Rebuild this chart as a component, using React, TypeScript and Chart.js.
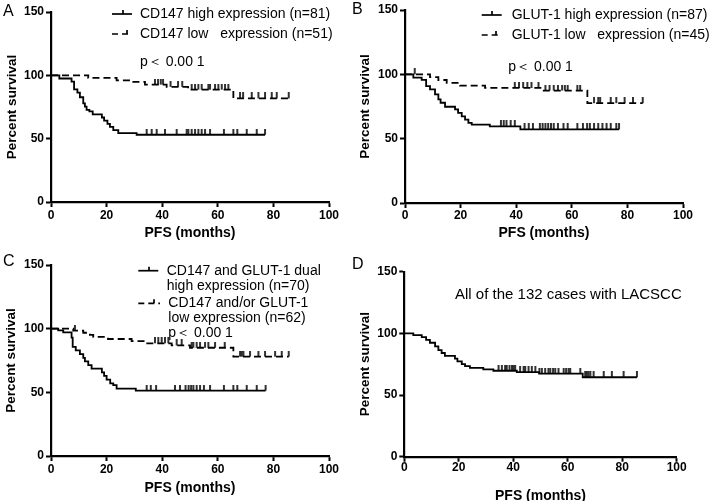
import React, { useEffect, useRef } from "react";
import { Chart, registerables } from "chart.js";
Chart.register(...registerables);

const FONT = "'Liberation Sans', Arial, Helvetica, sans-serif";

// ---------- axes ----------
const xMin = 0, xMax = 100, xStep = 20;
const yMin = 0, yMax = 150, yStep = 50;
const xTitle = "PFS (months)";
const yTitle = "Percent survival";

// ---------- Panel A: CD147 ----------
const aHighTimes = [0, 3, 7.4, 8.3, 9.5, 10.4, 11.6, 12.2, 12.8, 13.8, 15, 18.3, 19.1, 20.3, 21.2, 22.4, 24.2, 30.8];
const aHighSurv = [100, 97.5, 95.1, 88.9, 86.4, 82.7, 77.8, 75.3, 72.8, 71.6, 69.1, 66.7, 64.2, 61.7, 59.3, 56.8, 54.3, 53.1];
const aHighCensor = [34.4, 36.2, 38, 41, 45.2, 48.8, 49.4, 50.6, 51.8, 53, 54.2, 55.4, 57.2, 62.2, 65.6, 67, 70.4, 74, 77];
const aLowTimes = [0, 13.4, 23.6, 29, 33.8, 41.6, 49.3, 65.6];
const aLowSurv = [100, 98, 96, 94.8, 92.7, 90.9, 88.7, 81.8];
const aLowCensor = [37.4, 38.5, 39.5, 40.3, 43, 45.7, 47.2, 50.6, 51.8, 53, 54.2, 56.6, 57.2, 59, 60.2, 61.4, 62.6, 63.8, 68, 69.1, 72.2, 74.6, 77, 79.4, 81.2, 85.5];

// ---------- Panel B: GLUT-1 ----------
const bHighTimes = [0, 3, 6, 7.6, 9, 10.8, 12, 12.8, 14.4, 18, 19.1, 20.4, 21.6, 22.8, 24, 30.5, 41.5];
const bHighSurv = [100, 97.4, 95.7, 90.9, 88.3, 84.4, 80.5, 77.9, 74.8, 72.7, 70, 67.4, 64.8, 62.3, 60.9, 59.6, 57.2];
const bHighCensor = [34.5, 35.5, 36.5, 38, 39.5, 43, 44.5, 46, 48.5, 49.5, 50.5, 51.5, 52.5, 53.5, 55, 57, 58.5, 62, 64, 65.5, 66.5, 68, 69.5, 71, 72.5, 74, 76, 77];
const bLowTimes = [0, 9, 12, 15, 19.8, 28.8, 49.5, 65.6];
const bLowSurv = [100, 97.8, 95.6, 93.4, 91.2, 89.4, 87.4, 77.6];
const bLowCensor = [3.5, 39.5, 41, 42.5, 44, 45.5, 48, 50.5, 52, 53.5, 55, 56.5, 57.5, 58.5, 62, 63, 68, 69.5, 70.2, 74, 76, 79, 82, 85.5];

// ---------- Panel C: dual ----------
const cHighTimes = [0, 2.6, 4.4, 7.4, 7.8, 8.9, 10.4, 11.6, 12.2, 13.4, 14.6, 18.3, 19.1, 20, 21.3, 22.4, 23.6, 30.5];
const cHighSurv = [100, 98.6, 97.1, 92.9, 85.7, 82.9, 80, 77.1, 74.3, 71.4, 68.6, 65.7, 62.9, 60, 57.1, 55.7, 52.9, 51.4];
const cHighCensor = [34.4, 35.9, 37.8, 44.6, 46.4, 48.4, 49.5, 50.4, 51.2, 52.4, 53.6, 55, 57.2, 62.2, 65.6, 67, 70.4, 74, 77.2];
const cLowTimes = [0, 8, 11.6, 14, 15.2, 20.5, 29, 33.8, 43.4, 50, 65.6];
const cLowSurv = [100, 98.4, 96.8, 95.2, 93.5, 91.9, 90.2, 88.5, 86.8, 85, 78];
const cLowCensor = [8.6, 37.4, 38.6, 39.8, 41, 42.2, 45.2, 47, 50.6, 51.2, 52.4, 53.6, 55.4, 56.6, 59, 62.5, 68, 68.6, 69.2, 71.6, 74.6, 77, 80.6, 83, 85.5];

// ---------- Panel D: all cases ----------
const dAllTimes = [0, 3.3, 6.4, 8, 9.4, 11.3, 12.5, 13.7, 14.9, 18.6, 19.5, 21.1, 22.3, 24.1, 29, 32.7, 41.3, 49.5, 65.5];
const dAllSurv = [100, 98.5, 97, 94.7, 92.4, 89.4, 86.4, 84.1, 81.8, 79.5, 77.3, 75, 73.5, 72, 70.8, 69.7, 68.6, 67.4, 64.4];
const dAllCensor = [34.6, 35.8, 37, 37.6, 38.6, 39.5, 40.1, 40.7, 42.5, 43.8, 44.4, 45.6, 46.8, 48.1, 49.6, 50.5, 51.7, 52.9, 53.6, 54.6, 55.4, 56.6, 58.5, 59.4, 60.3, 60.9, 64.6, 66.4, 67, 67.6, 68.3, 69.5, 73.2, 76.2, 80.5, 85.4];

// ---------- texts ----------
const aLegend = ["CD147 high expression (n=81)", "CD147 low   expression (n=51)"];
const bLegend = ["GLUT-1 high expression (n=87)", "GLUT-1 low   expression (n=45)"];
const cLegend = ["CD147 and GLUT-1 dual", "high expression (n=70)", "CD147 and/or GLUT-1", "low expression (n=62)"];
const pText = "p＜ 0.00 1";
const dNote = "All of the 132 cases with LACSCC";

type Pt = { x: number; y: number; c: boolean };

function buildPoints(times: number[], surv: number[], censor: number[]): Pt[] {
  const pts: Pt[] = times.map((t, i) => ({ x: t, y: surv[i], c: false }));
  censor.forEach((t) => {
    let s = surv[0];
    for (let i = 0; i < times.length; i++) if (times[i] <= t) s = surv[i];
    pts.push({ x: t, y: s, c: true });
  });
  pts.sort((a, b) => a.x - b.x || (a.c ? 1 : 0) - (b.c ? 1 : 0));
  return pts;
}

function makeTick(): HTMLCanvasElement {
  const c = document.createElement("canvas");
  c.width = 4;
  c.height = 12;
  const g = c.getContext("2d")!;
  g.fillStyle = "#000";
  g.fillRect(1.2, 0, 1.6, 6);
  return c;
}

type Txt = { t: string; x: number; y: number; size: number; weight?: string };
type Sample = { x1: number; x2: number; y: number; dashed: boolean; tx: number };

type PanelCfg = {
  left: number; top: number; w: number; h: number;
  padTop: number; padRight: number; yWidth: number; xHeight: number;
  xTickPad: number; xTitlePad: number; yTitlePad: number;
  curves: { t: number[]; s: number[]; c: number[]; dashed: boolean }[];
  texts: Txt[];
  samples: Sample[];
};

const panels: PanelCfg[] = [
  {
    left: 0, top: 0, w: 350, h: 250,
    padTop: 12, padRight: 21, yWidth: 51, xHeight: 48,
    xTickPad: 1, xTitlePad: 8.6, yTitlePad: 3.9,
    curves: [
      { t: aHighTimes, s: aHighSurv, c: aHighCensor, dashed: false },
      { t: aLowTimes, s: aLowSurv, c: aLowCensor, dashed: true },
    ],
    texts: [
      { t: "A", x: 3, y: 12, size: 16 },
      { t: aLegend[0], x: 140, y: 14, size: 14 },
      { t: aLegend[1], x: 140, y: 34, size: 14 },
      { t: pText, x: 140, y: 62, size: 14 },
    ],
    samples: [
      { x1: 112, x2: 132, y: 14, dashed: false, tx: 123 },
      { x1: 112, x2: 132, y: 34, dashed: true, tx: 127 },
    ],
  },
  {
    left: 350, top: 0, w: 359, h: 250,
    padTop: 10, padRight: 26, yWidth: 55, xHeight: 47,
    xTickPad: 0, xTitlePad: 8.6, yTitlePad: 7.2,
    curves: [
      { t: bHighTimes, s: bHighSurv, c: bHighCensor, dashed: false },
      { t: bLowTimes, s: bLowSurv, c: bLowCensor, dashed: true },
    ],
    texts: [
      { t: "B", x: 2, y: 10, size: 16 },
      { t: bLegend[0], x: 161.7, y: 15, size: 14 },
      { t: bLegend[1], x: 161.7, y: 35, size: 14 },
      { t: pText, x: 158.3, y: 66.7, size: 14 },
    ],
    samples: [
      { x1: 131.7, x2: 151.7, y: 15, dashed: false, tx: 142 },
      { x1: 131.7, x2: 151.7, y: 35, dashed: true, tx: 146 },
    ],
  },
  {
    left: 0, top: 250, w: 350, h: 251,
    padTop: 15, padRight: 21, yWidth: 51, xHeight: 45,
    xTickPad: 1.8, xTitlePad: 4.3, yTitlePad: 3,
    curves: [
      { t: cHighTimes, s: cHighSurv, c: cHighCensor, dashed: false },
      { t: cLowTimes, s: cLowSurv, c: cLowCensor, dashed: true },
    ],
    texts: [
      { t: "C", x: 3, y: 12, size: 16 },
      { t: cLegend[0], x: 166.7, y: 20.7, size: 14 },
      { t: cLegend[1], x: 166.7, y: 36, size: 14 },
      { t: cLegend[2], x: 168.3, y: 53.3, size: 14 },
      { t: cLegend[3], x: 168.3, y: 68.3, size: 14 },
      { t: pText, x: 168.3, y: 83.3, size: 14 },
    ],
    samples: [
      { x1: 138.3, x2: 158.3, y: 20.7, dashed: false, tx: 149 },
      { x1: 138.3, x2: 160, y: 53.3, dashed: true, tx: 154 },
    ],
  },
  {
    left: 350, top: 250, w: 359, h: 251,
    padTop: 21.7, padRight: 32.3, yWidth: 54.3, xHeight: 44.3,
    xTickPad: -1.6, xTitlePad: -3.4, yTitlePad: 7.2,
    curves: [{ t: dAllTimes, s: dAllSurv, c: dAllCensor, dashed: false }],
    texts: [
      { t: "D", x: 2, y: 15, size: 16 },
      { t: dNote, x: 105, y: 45, size: 15 },
    ],
    samples: [],
  },
];

function Panel({ cfg }: { cfg: PanelCfg }) {
  const ref = useRef<HTMLCanvasElement>(null);
  useEffect(() => {
    const tick = makeTick();
    const datasets = cfg.curves.map((cv) => ({
      data: buildPoints(cv.t, cv.s, cv.c),
      showLine: true,
      stepped: "before" as const,
      borderColor: "#000",
      borderWidth: 1.8,
      borderDash: cv.dashed ? [7, 4] : [],
      fill: false,
      tension: 0,
      pointStyle: tick,
      pointRadius: (ctx: any) => (ctx.raw && ctx.raw.c ? 3 : 0),
      pointHoverRadius: 0,
      pointBackgroundColor: "#000",
      pointBorderColor: "#000",
    }));

    const overlay = {
      id: "overlay-" + cfg.left + "-" + cfg.top,
      afterDraw(chart: any) {
        const ctx = chart.ctx as CanvasRenderingContext2D;
        ctx.save();
        cfg.samples.forEach((s) => {
          ctx.strokeStyle = "#000";
          ctx.lineWidth = 1.7;
          ctx.setLineDash(s.dashed ? [6, 4] : []);
          ctx.beginPath();
          ctx.moveTo(s.x1, s.y);
          ctx.lineTo(s.x2, s.y);
          ctx.stroke();
          ctx.setLineDash([]);
          ctx.beginPath();
          ctx.moveTo(s.tx, s.y);
          ctx.lineTo(s.tx, s.y - 4);
          ctx.stroke();
        });
        cfg.texts.forEach((t) => {
          ctx.fillStyle = "#000";
          ctx.textAlign = "left";
          ctx.textBaseline = "middle";
          ctx.font = `${t.weight || "normal"} ${t.size}px ${FONT}`;
          ctx.fillText(t.t, t.x, t.y);
        });
        ctx.restore();
      },
    };

    const chart = new Chart(ref.current!, {
      type: "scatter",
      data: { datasets: datasets as any },
      options: {
        animation: false,
        responsive: false,
        events: [],
        layout: { padding: { top: cfg.padTop, right: cfg.padRight, left: 0, bottom: 0 } },
        plugins: { legend: { display: false }, tooltip: { enabled: false } },
        scales: {
          x: {
            type: "linear",
            min: xMin,
            max: xMax,
            ticks: {
              stepSize: xStep,
              color: "#000",
              padding: cfg.xTickPad,
              maxRotation: 0,
              font: { family: FONT, size: 12, weight: "bold" },
            },
            grid: { drawOnChartArea: false, drawTicks: true, tickLength: 5, tickWidth: 2, tickColor: "#000" },
            border: { display: true, color: "#000", width: 2.2 },
            title: {
              display: true,
              text: xTitle,
              color: "#000",
              font: { family: FONT, size: 14, weight: "bold" },
              padding: { top: 0, bottom: cfg.xTitlePad },
            },
            afterFit: (s: any) => {
              s.height = cfg.xHeight;
            },
          },
          y: {
            type: "linear",
            min: yMin,
            max: yMax,
            ticks: {
              stepSize: yStep,
              color: "#000",
              padding: 2,
              font: { family: FONT, size: 12, weight: "bold" },
            },
            grid: { drawOnChartArea: false, drawTicks: true, tickLength: 5, tickWidth: 2, tickColor: "#000" },
            border: { display: true, color: "#000", width: 2.2 },
            title: {
              display: true,
              text: yTitle,
              color: "#000",
              font: { family: FONT, size: 13.5, weight: "bold" },
              padding: { top: cfg.yTitlePad, bottom: 0 },
            },
            afterFit: (s: any) => {
              s.width = cfg.yWidth;
            },
          },
        },
      } as any,
      plugins: [overlay],
    });
    return () => chart.destroy();
  }, [cfg]);

  return (
    <canvas
      ref={ref}
      width={cfg.w}
      height={cfg.h}
      style={{ position: "absolute", left: cfg.left, top: cfg.top, width: cfg.w, height: cfg.h }}
    />
  );
}

export default function App() {
  return (
    <div
      style={{
        position: "absolute",
        left: 0,
        top: 0,
        width: 709,
        height: 501,
        background: "#fff",
        overflow: "hidden",
      }}
    >
      {panels.map((p, i) => (
        <Panel key={i} cfg={p} />
      ))}
    </div>
  );
}
